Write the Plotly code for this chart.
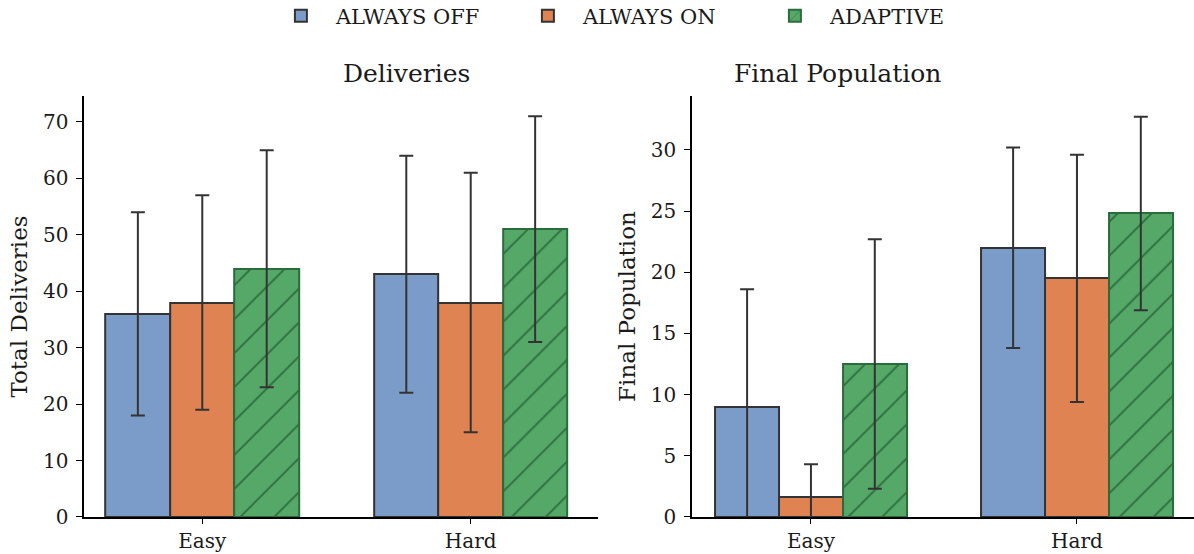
import plotly.graph_objects as go

categories = ["Easy", "Hard"]
series_names = ["ALWAYS OFF", "ALWAYS ON", "ADAPTIVE"]

deliveries_mean = {
    "ALWAYS OFF": [36, 43],
    "ALWAYS ON": [38, 38],
    "ADAPTIVE": [44, 51],
}
deliveries_err = {
    "ALWAYS OFF": [18, 21],
    "ALWAYS ON": [19, 23],
    "ADAPTIVE": [21, 20],
}
population_mean = {
    "ALWAYS OFF": [9.0, 22.0],
    "ALWAYS ON": [1.6, 19.5],
    "ADAPTIVE": [12.5, 24.8],
}
population_err = {
    "ALWAYS OFF": [9.6, 8.2],
    "ALWAYS ON": [2.7, 10.1],
    "ADAPTIVE": [10.2, 7.9],
}

fill_colors = {"ALWAYS OFF": "#7B9CC8", "ALWAYS ON": "#E08352", "ADAPTIVE": "#55A868"}
edge_colors = {"ALWAYS OFF": "#333333", "ALWAYS ON": "#333333", "ADAPTIVE": "#2C6B3C"}
offsets = {"ALWAYS OFF": -0.24, "ALWAYS ON": 0.0, "ADAPTIVE": 0.24}
bar_w = 0.24

FONT = "DejaVu Serif"
TXT = "#1a1a1a"
fig = go.Figure()

xpos = [0, 1]
for panel, (means, errs) in enumerate([(deliveries_mean, deliveries_err), (population_mean, population_err)]):
    xa = "x" if panel == 0 else "x2"
    ya = "y" if panel == 0 else "y2"
    for s in series_names:
        pattern = dict(shape="/", fgcolor=edge_colors[s], bgcolor=fill_colors[s], size=24, solidity=0.07, fillmode="replace") if s == "ADAPTIVE" else dict(shape="")
        fig.add_trace(go.Bar(
            x=[p + offsets[s] for p in xpos],
            y=means[s],
            width=bar_w,
            name=s,
            showlegend=(panel == 0),
            legendgroup=s,
            marker=dict(color=fill_colors[s], line=dict(color=edge_colors[s], width=2), pattern=pattern),
            error_y=dict(type="data", array=errs[s], visible=True, color="#333333", thickness=2, width=7),
            xaxis=xa, yaxis=ya,
        ))

axis_common = dict(
    showgrid=False, zeroline=False, showline=True, linecolor="black", linewidth=1.5,
    ticks="outside", tickwidth=1.3, tickcolor="black",
    tickfont=dict(family=FONT, size=20, color=TXT), automargin=False,
)
x_common = dict(ticklen=5, ticklabelstandoff=0, **axis_common)
y_common = dict(ticklen=6, ticklabelstandoff=4, **axis_common)
L_DOM = [0.0705, 0.5008]
R_DOM = [0.5796, 1.0]
Y_DOM = [0.0668, 0.8267]
fig.update_layout(
    width=1194, height=554,
    margin=dict(l=0, r=0, t=0, b=0, autoexpand=False),
    plot_bgcolor="white", paper_bgcolor="white",
    bargap=0, barmode="overlay",
    font=dict(family=FONT, size=20, color=TXT),
    xaxis=dict(domain=L_DOM, range=[-0.44, 1.474], tickvals=xpos, ticktext=categories, anchor="y", **x_common),
    yaxis=dict(domain=Y_DOM, range=[0, 74.6], tickvals=[0, 10, 20, 30, 40, 50, 60, 70], anchor="x",
               title=dict(text="Total Deliveries", font=dict(family=FONT, size=23, color=TXT), standoff=9), **y_common),
    xaxis2=dict(domain=R_DOM, range=[-0.447, 1.44], tickvals=xpos, ticktext=categories, anchor="y2", **x_common),
    yaxis2=dict(domain=Y_DOM, range=[0, 34.4], tickvals=[0, 5, 10, 15, 20, 25, 30], anchor="x2",
                title=dict(text="Final Population", font=dict(family=FONT, size=23, color=TXT), standoff=9), **y_common),
    legend=dict(orientation="h", x=0.533, xanchor="center", y=1.008, yanchor="top",
                font=dict(family=FONT, size=21, color=TXT), itemwidth=60, entrywidth=172,
                traceorder="normal"),
    annotations=[
        dict(text="Deliveries", x=sum(L_DOM) / 2, y=0.868, xref="paper", yref="paper", showarrow=False,
             font=dict(family=FONT, size=25, color=TXT), yanchor="middle"),
        dict(text="Final Population", x=sum(R_DOM) / 2, y=0.868, xref="paper", yref="paper", showarrow=False,
             font=dict(family=FONT, size=25, color=TXT), yanchor="middle"),
    ],
)

fig.write_html("out.html", config={"displayModeBar": False},
               post_script="document.body.style.margin='0';")
